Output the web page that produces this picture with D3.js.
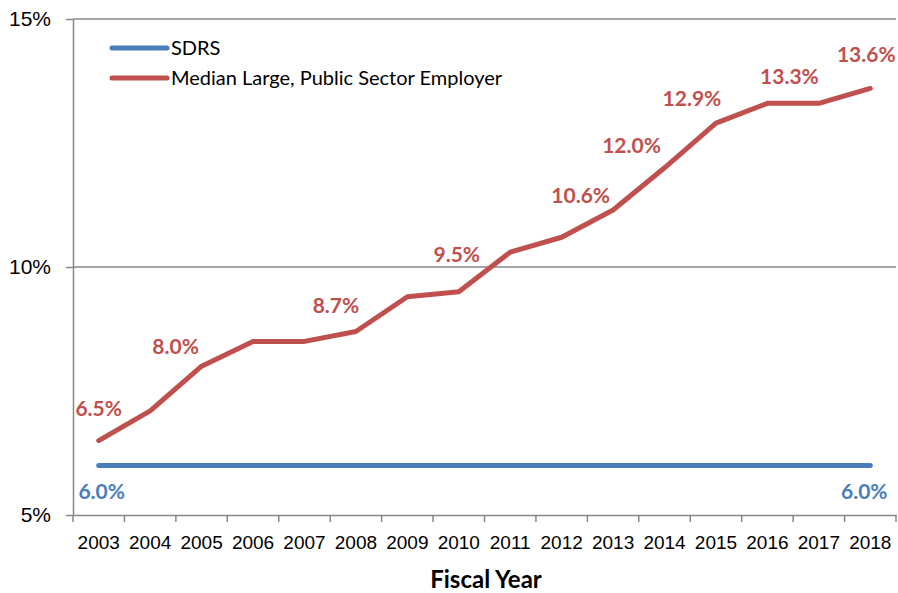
<!DOCTYPE html>
<html>
<head>
<meta charset="utf-8">
<title>SDRS vs Median Large, Public Sector Employer</title>
<script src="https://cdn.jsdelivr.net/npm/d3@7/dist/d3.min.js"></script>
<style>
body { margin: 0; background: #fff; }
svg { font-family: Lato, "Open Sans", sans-serif; }
.axis path, .axis line { stroke: #878787; stroke-width: 1.5px; }
.axis text { fill: #000; font-size: 19px; }
.yaxis text { font-size: 21px; }
.grid { stroke: #878787; stroke-width: 1.5px; }
.series { fill: none; stroke-width: 5px; stroke-linecap: round; stroke-linejoin: round; }
.lbl { font-weight: bold; font-size: 21px; text-anchor: middle; }
</style>
</head>
<body>
<script>
var years = ["2003","2004","2005","2006","2007","2008","2009","2010","2011","2012","2013","2014","2015","2016","2017","2018"];
var sdrs = [6.0,6.0,6.0,6.0,6.0,6.0,6.0,6.0,6.0,6.0,6.0,6.0,6.0,6.0,6.0,6.0];
var median = [6.5,7.1,8.0,8.5,8.5,8.7,9.4,9.5,10.3,10.6,11.15,12.0,12.9,13.3,13.3,13.6];
var seriesNames = ["SDRS", "Median Large, Public Sector Employer"];
var yTicks = [5, 10, 15];
var xTitle = "Fiscal Year";

// which points carry a value label (index into years)
var medianLabelIdx = [0, 2, 5, 7, 9, 11, 12, 13, 15];
var sdrsLabelIdx = [0, 15];

// label nudges in px (layout only)
var medianNudge = [[0,-25],[-26,-12],[-20,-18],[-2,-30],[19,-34],[-33,-15],[-24,-17],[22,-19],[-4,-26]];
var sdrsNudge = [[3,34],[-6,34]];

var width = 898, height = 593;
var colors = ["#4a7ebb", "#c0504d"];

var svg = d3.select("body").append("svg")
    .attr("width", width)
    .attr("height", height);

var x = d3.scaleBand().domain(years).range([73, 896]).padding(0);
var y = d3.scaleLinear().domain([5, 15]).range([515, 19]);
var cx = function(i) { return x(years[i]) + x.bandwidth() / 2; };

// gridlines
svg.selectAll("line.grid")
    .data(yTicks.filter(function(d) { return d > 5; }))
  .enter().append("line")
    .attr("class", "grid")
    .attr("x1", 73).attr("x2", 896)
    .attr("y1", function(d) { return y(d); })
    .attr("y2", function(d) { return y(d); });

// y axis
var yAxis = svg.append("g")
    .attr("class", "axis yaxis")
    .attr("transform", "translate(73,0)")
    .call(d3.axisLeft(y).tickValues(yTicks).tickFormat(function(d) { return d + "%"; }).tickSize(7).tickSizeOuter(0));
yAxis.selectAll("text").attr("x", -22);

// x axis
var xAxis = svg.append("g")
    .attr("class", "axis")
    .attr("transform", "translate(0,515)")
    .call(d3.axisBottom(x).tickSize(0).tickSizeOuter(0));
xAxis.selectAll("text").attr("y", 21);
xAxis.selectAll("line.edge")
    .data(years.map(function(d) { return x(d); }).concat([x.range()[1]]))
  .enter().append("line")
    .attr("class", "edge")
    .attr("x1", function(d) { return d; }).attr("x2", function(d) { return d; })
    .attr("y1", 0).attr("y2", 7);

svg.append("text")
    .attr("x", 486).attr("y", 588)
    .attr("text-anchor", "middle")
    .style("font-weight", "bold")
    .style("font-size", "24px")
    .text(xTitle);

// lines
var line = d3.line()
    .x(function(d, i) { return cx(i); })
    .y(function(d) { return y(d); });

svg.append("path").attr("class", "series")
    .attr("d", line(sdrs)).style("stroke", colors[0]);
svg.append("path").attr("class", "series")
    .attr("d", line(median)).style("stroke", colors[1]);

// value labels
svg.selectAll("text.mlbl")
    .data(medianLabelIdx)
  .enter().append("text")
    .attr("class", "lbl mlbl")
    .attr("x", function(d, j) { return cx(d) + medianNudge[j][0]; })
    .attr("y", function(d, j) { return y(median[d]) + medianNudge[j][1]; })
    .style("fill", colors[1])
    .text(function(d) { return d3.format(".1f")(median[d]) + "%"; });

svg.selectAll("text.slbl")
    .data(sdrsLabelIdx)
  .enter().append("text")
    .attr("class", "lbl slbl")
    .attr("x", function(d, j) { return cx(d) + sdrsNudge[j][0]; })
    .attr("y", function(d, j) { return y(sdrs[d]) + sdrsNudge[j][1]; })
    .style("fill", colors[0])
    .text(function(d) { return d3.format(".1f")(sdrs[d]) + "%"; });

// legend
var legend = svg.append("g").attr("transform", "translate(112,48)");
var item = legend.selectAll("g")
    .data(seriesNames)
  .enter().append("g")
    .attr("transform", function(d, i) { return "translate(0," + (i * 30) + ")"; });
item.append("line")
    .attr("x1", 0).attr("x2", 55)
    .attr("stroke-width", 5)
    .attr("stroke-linecap", "round")
    .attr("stroke", function(d, i) { return colors[i]; });
item.append("text")
    .attr("x", 59).attr("dy", "0.35em")
    .style("font-size", "20px")
    .text(function(d) { return d; });
</script>
</body>
</html>
